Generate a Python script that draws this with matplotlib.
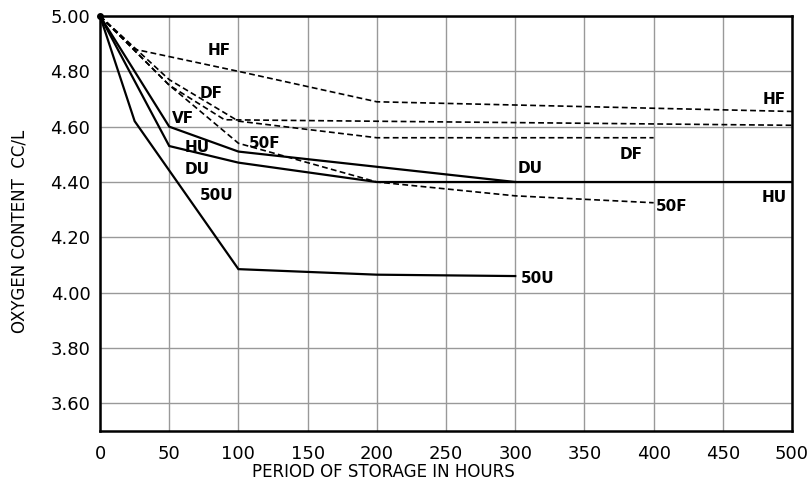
import matplotlib
matplotlib.use("Agg")
import matplotlib.pyplot as plt

# Oxygen content (cc/L) against storage time (hours)
hu_x = [0, 50, 100, 300, 500]
hu_y = [5.00, 4.60, 4.51, 4.40, 4.40]
du_x = [0, 50, 100, 200, 300]
du_y = [5.00, 4.53, 4.47, 4.40, 4.40]
u50_x = [0, 25, 100, 200, 300]
u50_y = [5.00, 4.62, 4.085, 4.065, 4.06]

hf_x = [0, 25, 100, 200, 500]
hf_y = [5.00, 4.88, 4.80, 4.69, 4.655]
vf_x = [0, 50, 90, 500]
vf_y = [5.00, 4.75, 4.625, 4.605]
df_x = [0, 50, 100, 200, 400]
df_y = [5.00, 4.77, 4.62, 4.56, 4.56]
f50_x = [0, 50, 100, 200, 300, 400]
f50_y = [5.00, 4.75, 4.54, 4.40, 4.35, 4.325]

# curve labels: (text, x, y)
labels = [
    ("HF", 86, 4.875), ("DF", 80, 4.72), ("VF", 60, 4.63), ("50F", 119, 4.54),
    ("HU", 70, 4.525), ("DU", 70, 4.445), ("50U", 84, 4.35),
    ("HF", 487, 4.70), ("DF", 384, 4.50), ("DU", 311, 4.45),
    ("50F", 413, 4.31), ("HU", 487, 4.345), ("50U", 316, 4.05),
]

xticks = list(range(0, 501, 50))
yticks = [3.60, 3.80, 4.00, 4.20, 4.40, 4.60, 4.80, 5.00]

fig = plt.figure(figsize=(8.12, 4.93), dpi=100)
ax = fig.add_axes([0.1232, 0.1258, 0.8522, 0.8417])

solid = dict(color="black", lw=1.6, solid_joinstyle="miter")
dashed = dict(color="black", lw=1.2, dashes=(3.5, 2))

ax.plot(hu_x, hu_y, **solid)
ax.plot(du_x, du_y, **solid)
ax.plot(u50_x, u50_y, **solid)
ax.plot(hf_x, hf_y, **dashed)
ax.plot(vf_x, vf_y, **dashed)
ax.plot(df_x, df_y, **dashed)
ax.plot(f50_x, f50_y, **dashed)
ax.plot([0], [5.0], "o", color="black", ms=4, clip_on=False)

for txt, x, y in labels:
    ax.text(x, y, txt, ha="center", va="center", fontsize=11, fontweight="bold")

ax.set_xlim(0, 500)
ax.set_ylim(3.50, 5.00)
ax.set_xticks(xticks)
ax.set_yticks(yticks)
ax.set_yticklabels([f"{v:.2f}" for v in yticks])
ax.grid(True, color="#999999", lw=1.0)
ax.tick_params(length=0, labelsize=13, pad=7)
ax.tick_params(axis="x", pad=10)
for s in ax.spines.values():
    s.set_linewidth(1.8)
    s.set_color("black")

ax.set_xlabel("PERIOD OF STORAGE IN HOURS", fontsize=12, x=0.41, labelpad=0)
ax.set_ylabel("OXYGEN CONTENT  CC/L", fontsize=12, y=0.48, labelpad=16)

plt.savefig("out.png", dpi=100)
